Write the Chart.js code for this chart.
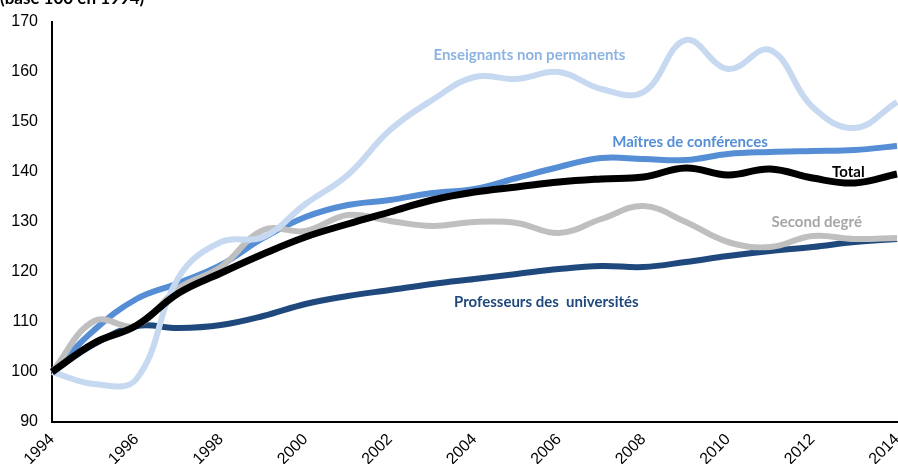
<!DOCTYPE html>
<html>
<head>
<meta charset="utf-8">
<script src="https://cdn.jsdelivr.net/npm/chart.js@4"></script>
<style>
  body { margin: 0; background: #fff; }
  #wrap { width: 898px; height: 464px; position: relative; }
</style>
</head>
<body>
<div id="wrap"><canvas id="evolChart"></canvas></div>
<script>
// Evolution des effectifs enseignants (base 100 en 1994)
const years = [1994, 1995, 1996, 1997, 1998, 1999, 2000, 2001, 2002, 2003, 2004,
  2005, 2006, 2007, 2008, 2009, 2010, 2011, 2012, 2013, 2014]

const total = [100, 105.8, 109.3, 115.8, 119.8, 123.6, 127, 129.6, 132, 134.4, 136,
  137, 138, 138.6, 139, 140.8, 139.4, 140.6, 138.8, 137.8, 139.6]
const nonPermanents = [100, 97.6, 98.6, 119, 126, 127, 133.6, 139.4, 148.4, 154.4, 159,
  158.6, 160, 156.6, 156, 166.4, 160.6, 164.4, 153, 148.8, 154]
const secondDegre = [100, 110.2, 109.3, 116.8, 121, 128.4, 128.2, 131.4, 130.2, 129.2, 130,
  129.8, 127.8, 130.6, 133.2, 130, 126, 125, 127.2, 126.6, 126.8]
const maitresConf = [100, 108.4, 114.6, 117.8, 121.4, 126.8, 131, 133.4, 134.4, 135.8, 136.6,
  138.8, 141, 142.8, 142.6, 142.4, 143.6, 144, 144.2, 144.4, 145.2]
const professeurs = [100, 105.6, 109.2, 108.8, 109.4, 111.2, 113.6, 115.2, 116.4, 117.6, 118.6,
  119.6, 120.6, 121.2, 121, 122, 123.2, 124.2, 125, 126, 126.6]

const yTicks = [90, 100, 110, 120, 130, 140, 150, 160, 170]

// inline series names: [text, year, value, colour]
const seriesLabels = [
  ["Enseignants non permanents", 2005.3, 163.4, "#8DB3E2"],
  ["Maîtres de conférences", 2009.1, 146, "#558ED5"],
  ["Total", 2012.85, 140, "#000000"],
  ["Second degré", 2012.1, 130, "#A6A6A6"],
  ["Professeurs des  universités", 2005.7, 114, "#1F497D"]
]

const labelPlugin = {
  id: 'seriesLabels',
  afterDatasetsDraw(chart) {
    const ctx = chart.ctx
    const xs = chart.scales.x
    const ys = chart.scales.y
    ctx.save()
    ctx.font = 'bold 15px Lato'
    ctx.textAlign = 'center'
    ctx.textBaseline = 'middle'
    seriesLabels.forEach(([txt, yr, val, col]) => {
      ctx.fillStyle = col
      ctx.fillText(txt, xs.getPixelForValue(yr - years[0]), ys.getPixelForValue(val))
    })
    // axis title, cut by the top edge like the original
    ctx.font = 'bold 17px Lato'
    ctx.textAlign = 'left'
    ctx.textBaseline = 'alphabetic'
    ctx.fillStyle = '#000'
    ctx.fillText('(base 100 en 1994)', 0, 4)
    ctx.restore()
  }
}

const line = (data, color, width) => ({
  data: data,
  borderColor: color,
  borderWidth: width,
  pointRadius: 0,
  tension: 0.4,
  fill: false,
  clip: 4
})

new Chart(document.getElementById('evolChart'), {
  type: 'line',
  data: {
    labels: years.map(String),
    datasets: [
      line(total, '#000000', 7),
      line(nonPermanents, '#C6D9F1', 6),
      line(secondDegre, '#BFBFBF', 6),
      line(maitresConf, '#558ED5', 6),
      line(professeurs, '#1F497D', 6)
    ]
  },
  options: {
    responsive: true,
    maintainAspectRatio: false,
    animation: false,
    layout: { padding: { top: 22, right: 1, left: 0, bottom: 0 } },
    plugins: {
      legend: { display: false },
      tooltip: { enabled: false }
    },
    scales: {
      x: {
        offset: false,
        grid: { display: false, drawTicks: false },
        border: { display: true, color: '#000', width: 2 },
        afterFit: (s) => {
          s.height = 42
          s.paddingLeft = 0
          s.paddingRight = 0
        },
        ticks: {
          autoSkip: false,
          maxRotation: 45,
          minRotation: 45,
          padding: 8,
          color: '#000',
          font: { family: 'Liberation Sans', size: 16 },
          callback: (v, i) => (years[i] % 2 === 0 ? years[i] : '')
        }
      },
      y: {
        min: yTicks[0],
        max: yTicks[yTicks.length - 1],
        afterFit: (s) => {
          s.width = 52
          s.paddingTop = 0
          s.paddingBottom = 0
        },
        afterBuildTicks: (s) => { s.ticks = yTicks.map(v => ({ value: v })) },
        grid: { display: false, drawTicks: false },
        border: { display: true, color: '#000', width: 2 },
        ticks: {
          padding: 14,
          color: '#000',
          font: { family: 'Liberation Sans', size: 16 }
        }
      }
    }
  },
  plugins: [labelPlugin]
})
</script>
</body>
</html>
